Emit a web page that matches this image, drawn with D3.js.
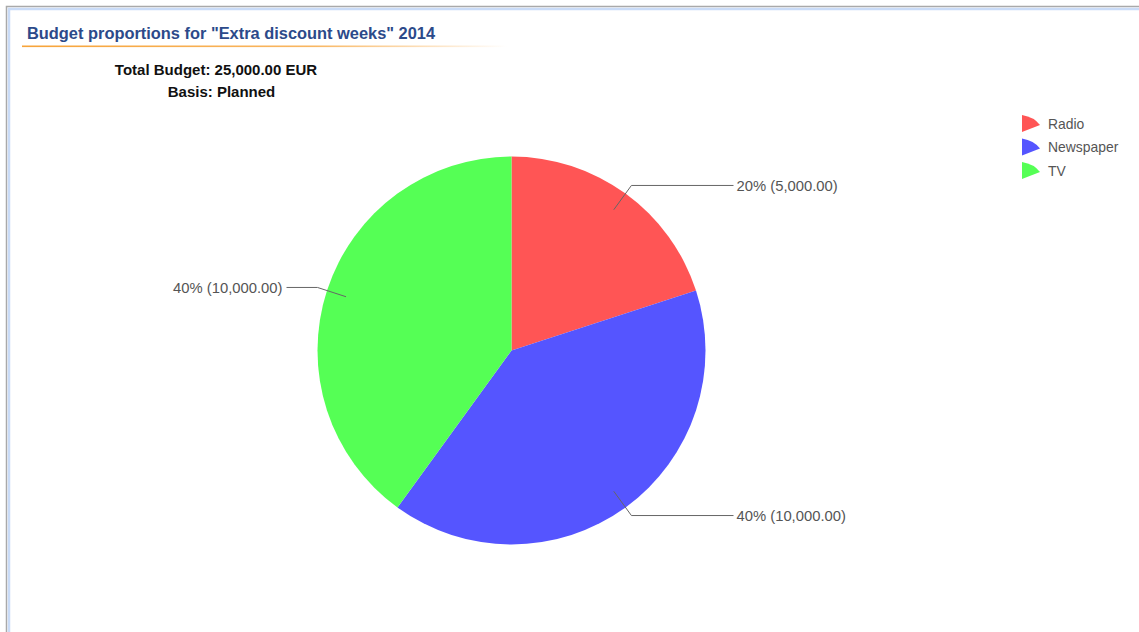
<!DOCTYPE html>
<html>
<head>
<meta charset="utf-8">
<script src="https://cdn.jsdelivr.net/npm/d3@7"></script>
<style>
  body { margin: 0; background: #fff; }
  svg { display: block; font-family: "Liberation Sans", Arial, sans-serif; }
</style>
</head>
<body>
<svg id="chart" width="1139" height="632"></svg>
<script>
var categories = ["Radio", "Newspaper", "TV"];
var amounts = [5000, 10000, 10000];
var shares = [20, 40, 40];
var colors = ["#ff5555", "#5555ff", "#55ff55"];

var svg = d3.select("#chart");

// frame
svg.append("rect").attr("x", 6.5).attr("y", 6.5).attr("width", 1150).attr("height", 650)
    .attr("fill", "none").attr("stroke", "#a9a9a9").attr("stroke-width", 1.5);
svg.append("rect").attr("x", 9).attr("y", 9).attr("width", 1150).attr("height", 650)
    .attr("fill", "none").attr("stroke", "#c9dbf7").attr("stroke-width", 2.5);

// title + underline
var grad = svg.append("defs").append("linearGradient").attr("id", "uline");
grad.append("stop").attr("offset", "0%").attr("stop-color", "#f7a43a").attr("stop-opacity", 1);
grad.append("stop").attr("offset", "60%").attr("stop-color", "#f7a43a").attr("stop-opacity", 0.8);
grad.append("stop").attr("offset", "100%").attr("stop-color", "#f7a43a").attr("stop-opacity", 0);

svg.append("text").attr("x", 27).attr("y", 39)
    .attr("font-size", 16.4).attr("font-weight", "bold").attr("fill", "#2c4a8a")
    .text('Budget proportions for "Extra discount weeks" 2014');
svg.append("rect").attr("x", 22).attr("y", 45.5).attr("width", 485).attr("height", 1.6)
    .attr("fill", "url(#uline)");

var fmt = d3.format(",.2f");
var total = d3.sum(amounts);

svg.append("text").attr("x", 216).attr("y", 75).attr("text-anchor", "middle")
    .attr("font-size", 15).attr("font-weight", "bold").attr("fill", "#111")
    .text("Total Budget: " + fmt(total) + " EUR");
svg.append("text").attr("x", 221.5).attr("y", 97).attr("text-anchor", "middle")
    .attr("font-size", 15).attr("font-weight", "bold").attr("fill", "#111")
    .text("Basis: Planned");

// pie
var cx = 511.5, cy = 350.5, r = 194;
var data = categories.map(function(c, i) {
    return { name: c, value: amounts[i], pct: shares[i], color: colors[i] };
});
var pie = d3.pie().sort(null).value(function(d) { return d.value; });
var arc = d3.arc().innerRadius(0).outerRadius(r);
var arcs = pie(data);

var g = svg.append("g").attr("transform", "translate(" + cx + "," + cy + ")");
g.selectAll("path.slice").data(arcs).enter().append("path")
    .attr("class", "slice")
    .attr("d", arc)
    .attr("fill", function(d) { return d.data.color; });

// leader lines + labels
function pt(a, rad) { return [Math.sin(a) * rad, -Math.cos(a) * rad]; }
arcs.forEach(function(d) {
    var mid = (d.startAngle + d.endAngle) / 2;
    var p1 = pt(mid, 174), p2 = pt(mid, 204);
    var right = Math.sin(mid) > 0;
    var x3 = right ? 222 : -225;
    g.append("path")
        .attr("d", "M" + p1 + "L" + p2 + "L" + [x3, p2[1]])
        .attr("fill", "none").attr("stroke", "#666").attr("stroke-width", 1);
    g.append("text")
        .attr("x", right ? x3 + 3 : x3 - 4)
        .attr("y", p2[1])
        .attr("dy", "0.35em")
        .attr("text-anchor", right ? "start" : "end")
        .attr("font-size", 14.8).attr("fill", "#555")
        .text(d.data.pct + "% (" + fmt(d.data.value) + ")");
});

// legend
var lg = svg.append("g").attr("transform", "translate(1022,124)");
var item = lg.selectAll("g").data(data).enter().append("g")
    .attr("transform", function(d, i) { return "translate(0," + (i * 23.5) + ")"; });
item.append("path")
    .attr("d", "M0,-9 Q12,-7 18,1 L0,8 Z")
    .attr("fill", function(d) { return d.color; });
item.append("text").attr("x", 26).attr("dy", "0.35em")
    .attr("font-size", 13.9).attr("fill", "#555")
    .text(function(d) { return d.name; });
</script>
</body>
</html>
